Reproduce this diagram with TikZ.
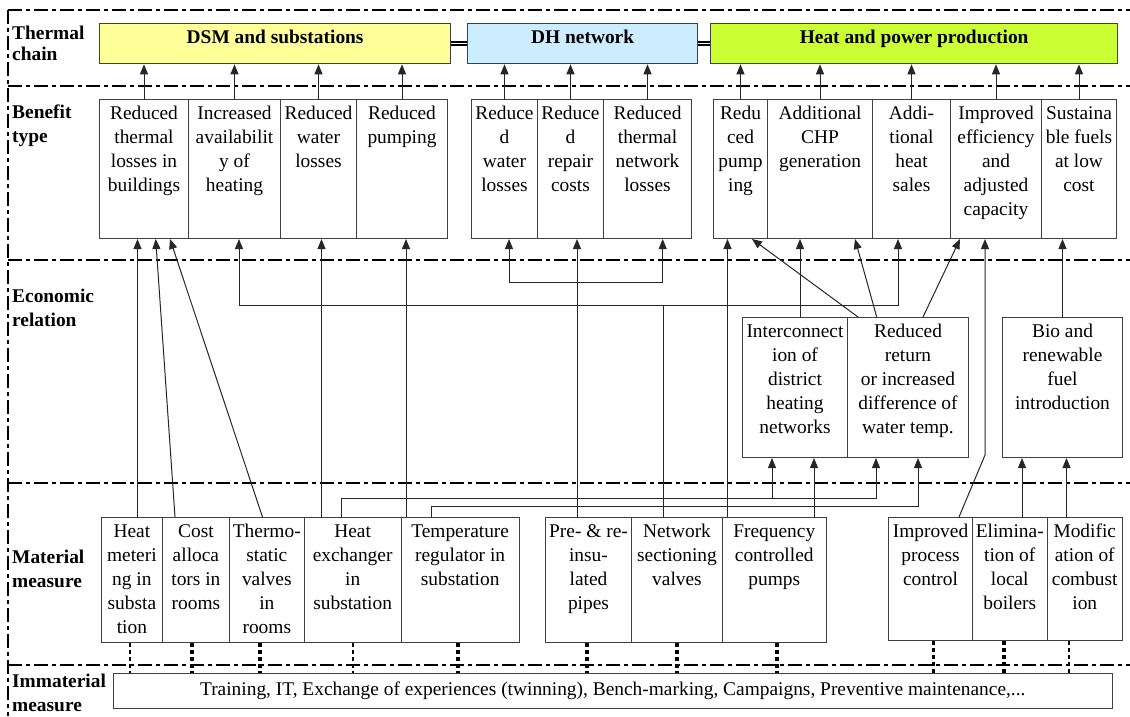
\documentclass[tikz,border=0pt]{standalone}
\usepackage{fontspec}
\setmainfont{Liberation Serif}
\usetikzlibrary{arrows.meta}
\definecolor{dsmc}{HTML}{FFFF99}
\definecolor{dhc}{HTML}{CCECFF}
\definecolor{hpc}{HTML}{CCFF33}
\definecolor{edgec}{HTML}{404040}
\tikzset{
  txt/.style={font=\fontsize{19.4pt}{24pt}\selectfont},
  box/.style={txt, draw=edgec, line width=1pt, inner sep=0pt, anchor=north west, fill=white},
  topbox/.style={box, line width=1.3pt, font=\fontsize{19.4pt}{24pt}\selectfont\bfseries},
  lab/.style={anchor=north west, inner sep=0pt, align=left, font=\fontsize{19.4pt}{24pt}\selectfont\bfseries},
  sep/.style={line width=2pt, dash pattern=on 14pt off 4pt on 4pt off 4pt},
  conn/.style={draw=black!85, line width=1pt},
  arr/.style={conn, -{Triangle[length=10pt,width=8pt]}},
  arrs/.style={conn, {Triangle[length=10pt,width=8pt]}-{Triangle[length=10pt,width=8pt]}},
  dots/.style={line width=3.6pt, dash pattern=on 4pt off 3pt},
  dotsthin/.style={line width=2.6pt, dash pattern=on 4pt off 3pt},
  dbl/.style={line width=1.4pt, double=white, double distance=1.6pt},
}
\newcommand{\BX}[7][]{\node[box,#1] (#2) at (#3,#4) {\parbox[c][\dimexpr #6pt-#4pt\relax][t]{\dimexpr #5pt-#3pt\relax}{\centering\rule{0pt}{19.5pt}#7}};}
\begin{document}
\begin{tikzpicture}[x=1pt,y=-1pt]
\useasboundingbox (0,0) rectangle (1130,716);
% frame
\draw[sep] (8,10) -- (1130,10);
\draw[sep] (8,10) -- (8,716);
\draw[sep] (8,86) -- (1130,86);
\draw[sep] (8,260) -- (1130,260);
\draw[sep] (8,483) -- (1130,483);
\draw[sep] (8,665) -- (1130,665);
% row labels
\node[lab] (lthermal) at (12,24) {\rule{0pt}{15pt}Thermal\\[-3pt]chain};
\node[lab] (lbenefit) at (12,103.5) {\rule{0pt}{15pt}Benefit\\type};
\node[lab] (leconomic) at (12,287) {\rule{0pt}{15pt}Economic\\relation};
\node[lab] (lmaterial) at (12,548) {\rule{0pt}{15pt}Material\\measure};
\node[lab] (limmaterial) at (12,672) {\rule{0pt}{15pt}Immaterial\\measure};
% thermal chain boxes
\BX[topbox,fill=dsmc]{dsm}{99}{23}{450}{63}{DSM and substations}
\BX[topbox,fill=dhc]{dh}{467}{23}{697}{63}{DH network}
\BX[topbox,fill=hpc]{hp}{710}{23}{1117}{63}{Heat and power production}
\draw[dbl] (dsm.east) -- (dh.west);
\draw[dbl] (dh.east) -- (hp.west);
% benefit boxes
\BX{br1}{99}{99}{188}{238}{Reduced\\thermal\\losses in\\buildings}
\BX{br2}{188}{99}{280}{238}{Increased\\availabilit\\y of\\heating}
\BX{br3}{280}{99}{356}{238}{Reduced\\water\\losses}
\BX{br4}{356}{99}{447}{238}{Reduced\\pumping}
\BX{bd1}{471}{99}{537}{238}{Reduce\\d\\water\\losses}
\BX{bd2}{537}{99}{603}{238}{Reduce\\d\\repair\\costs}
\BX{bd3}{603}{99}{691}{238}{Reduced\\thermal\\network\\losses}
\BX{bh1}{713}{99}{767}{238}{Redu\\ced\\pump\\ing}
\BX{bh2}{767}{99}{872}{238}{Additional\\CHP\\generation}
\BX{bh3}{872}{99}{950}{238}{Addi-\\tional\\heat\\sales}
\BX{bh4}{950}{99}{1041}{238}{Improved\\efficiency\\and\\adjusted\\capacity}
\BX{bh5}{1041}{99}{1116}{238}{Sustaina\\ble fuels\\at low\\cost}
\foreach \n in {br1,br2,br3,br4} \draw[arr] (\n.north) -- (\n.north |- dsm.south);
\foreach \n in {bd1,bd2,bd3} \draw[arr] (\n.north) -- (\n.north |- dh.south);
\foreach \n in {bh1,bh2,bh3,bh4,bh5} \draw[arr] (\n.north) -- (\n.north |- hp.south);
% economic relation boxes
\BX{ei}{742}{317}{847}{457}{Interconnect\\ion of\\district\\heating\\networks}
\BX{er}{847}{317}{968}{457}{Reduced\\return\\or increased\\difference of\\water temp.}
\BX{eb}{1002}{317}{1122}{457}{Bio and\\renewable\\fuel\\introduction}
% material measure boxes
\BX{m1}{101}{517}{161.8}{642}{Heat\\meteri\\ng in\\substa\\tion}
\BX{m2}{161.8}{517}{229}{642}{Cost\\alloca\\tors in\\rooms}
\BX{m3}{229}{517}{303.6}{642}{Thermo-\\static\\valves\\in\\rooms}
\BX{m4}{303.6}{517}{400.7}{642}{Heat\\exchanger\\in\\substation}
\BX{m5}{400.7}{517}{518.6}{642}{Temperature\\regulator in\\substation}
\BX{m6}{545}{517}{631}{642}{Pre- \& re-\\insu-\\lated\\pipes}
\BX{m7}{631}{517}{722}{642}{Network\\sectioning\\valves}
\BX{m8}{722}{517}{825.5}{642}{Frequency\\controlled\\pumps}
\BX{m9}{888}{517}{972}{640}{Improved\\process\\control}
\BX{m10}{972}{517}{1046.5}{640}{Elimina-\\tion of\\local\\boilers}
\BX{m11}{1046.5}{517}{1122}{640}{Modific\\ation of\\combust\\ion}
% immaterial measure
\node[txt, draw=edgec, line width=1pt, inner sep=0pt, anchor=north west, minimum width=999.5pt, minimum height=35pt] (im) at (112.5,673) {Training, IT, Exchange of experiences (twinning), Bench-marking, Campaigns, Preventive maintenance,...};
% connectors material -> benefit / economic
\draw[arr] (137.5,0 |- m1.north) -- (137.5,0 |- br1.south);
\draw[arr] (175,0 |- m2.north) -- (155.7,0 |- br1.south);
\draw[arr] (262.5,0 |- m3.north) -- (170,0 |- br1.south);
\draw[arr] (321.5,0 |- m4.north) -- (321.5,0 |- br3.south);
\draw[arr] (406,0 |- m5.north) -- (406,0 |- br4.south);
\coordinate (j1) at (772,498);
\draw[arr] (341,0 |- m4.north) -- (341,498) -| (876,0 |- er.south);
\draw[arr] (j1) -- (j1 |- ei.south);
\draw[arr] (431,0 |- m5.north) -- (431,506) -| (918,0 |- er.south);
\draw[arr] (577,0 |- m6.north) -- (577,0 |- bd2.south);
\coordinate (j2) at (663.6,305.5);
\draw[conn] (j2 |- m7.north) -- (j2);
\draw[arr] (j2) -| (239,0 |- br2.south);
\draw[arr] (j2) -| (898,0 |- bh3.south);
\draw[arrs] (509,0 |- bd1.south) |- (662.7,282.7) -- (662.7,0 |- bd3.south);
\draw[arr] (727.5,0 |- m8.north) -- (727.5,0 |- bh1.south);
\draw[arr] (814,0 |- m8.north) -- (814,0 |- ei.south);
\draw[arr] (800,0 |- ei.north) -- (800,0 |- bh2.south);
\draw[arr] (858,0 |- er.north) -- (752,0 |- bh1.south);
\draw[arr] (876.7,0 |- er.north) -- (855,0 |- bh2.south);
\draw[arr] (923,0 |- er.north) -- (960,0 |- bh4.south);
\draw[arr] (959,0 |- m9.north) -- (985,455) -- (985,0 |- bh4.south);
\draw[arr] (eb.north) -- (eb.north |- bh5.south);
\draw[arr] (1022,0 |- m10.north) -- (1022,0 |- eb.south);
\draw[arr] (1066.5,0 |- m11.north) -- (1066.5,0 |- eb.south);
% dotted links to immaterial measures
\foreach \x/\n in {192/m2, 260/m3, 458/m5, 587/m6, 677/m7, 777/m8, 933.5/m9, 1004/m10}
  \draw[dots] (\x,0 |- \n.south) -- (\x,0 |- im.north);
\foreach \x/\n in {130/m1, 353/m4, 1069/m11}
  \draw[dotsthin] (\x,0 |- \n.south) -- (\x,0 |- im.north);
\end{tikzpicture}
\end{document}
